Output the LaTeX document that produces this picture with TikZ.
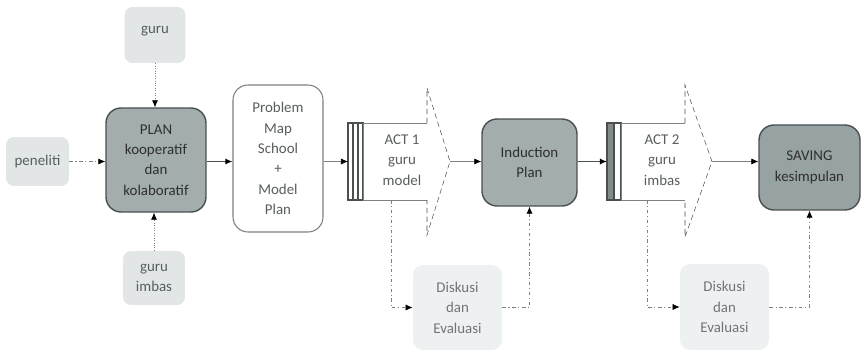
\documentclass[tikz,border=0pt]{standalone}
\usepackage{fontspec}
\setmainfont{Carlito}
\usetikzlibrary{arrows.meta}

\definecolor{boxlight}{HTML}{E2E6E6}
\definecolor{boxpale}{HTML}{EEF1F1}
\definecolor{boxdark}{HTML}{A3ADAD}
\definecolor{boxdarker}{HTML}{97A2A2}
\definecolor{edgedark}{HTML}{4A4F4F}
\definecolor{linegray}{HTML}{7C8181}
\definecolor{txtgray}{HTML}{585D5D}

\tikzset{
  lightbox/.style={fill=boxlight, rounded corners=0.16cm, align=center, text=txtgray, inner sep=1pt},
  palebox/.style={fill=boxpale, rounded corners=0.2cm, align=center, text=txtgray!85, inner sep=1pt},
  darkbox/.style={fill=boxdark, draw=edgedark, line width=0.8pt, rounded corners=0.3cm, align=center, text=black!82},
  whitebox/.style={fill=white, draw=linegray, line width=0.6pt, rounded corners=0.3cm, align=center, text=txtgray},
  barbox/.style={draw=edgedark, line width=0.6pt},
  conn/.style={-{Latex[length=4pt,width=3.5pt,color=black]}},
  dotconn/.style={conn, linegray, densely dotted},
  dashdotconn/.style={conn, linegray, dash pattern=on 2pt off 1.5pt on 0.6pt off 1.5pt},
}

\begin{document}
\begin{tikzpicture}[x=0.02cm, y=-0.02cm, font=\fontsize{8.5}{11.6}\selectfont]
  \useasboundingbox (0,0) rectangle (862,351);

  % Input boxes round PLAN
  \node[lightbox, minimum width=1.22cm, minimum height=1.12cm, text depth=0.22cm] (guru) at (155,35) {guru};
  \node[lightbox, minimum width=1.26cm, minimum height=0.98cm] (peneliti) at (37.5,161.5) {peneliti};
  \node[lightbox, minimum width=1.24cm, minimum height=1.08cm] (gimbas) at (154,278) {guru\\imbas};

  % PLAN
  \node[darkbox, minimum width=2cm, minimum height=2.08cm] (plan) at (156,160) {PLAN\\kooperatif\\dan\\kolaboratif};

  % Problem map
  \node[whitebox, minimum width=1.8cm, minimum height=2.94cm] (problem) at (278,158.5) {Problem\\Map\\School\\+\\Model\\Plan};

  % ACT 1 arrow
  \foreach \x in {348,353,358}
    \draw[barbox, fill=white] (\x,123) rectangle +(5,77);
  \draw[linegray] (427,123) -- (363,123) -- (363,200) -- (427,200);
  \draw[edgedark, densely dashed, line width=0.3pt] (427,123) -- (427,88) -- (450,161.5) -- (427,235) -- (427,200);
  \coordinate (act1in) at (348,161.5);
  \coordinate (act1tip) at (450,161.5);
  \coordinate (act1foot) at (391,200);
  \node[align=center, text=txtgray] (act1) at (402,160) {ACT 1\\guru\\model};

  % Induction
  \node[darkbox, minimum width=1.9cm, minimum height=1.74cm] (induction) at (529.5,162.5) {Induction\\Plan};

  % ACT 2 arrow
  \draw[barbox, fill=boxdark!80!black] (607,123) rectangle (614,200);
  \draw[barbox, fill=white] (614,123) rectangle (621,200);
  \draw[linegray] (685,123) -- (621,123) -- (621,200) -- (685,200);
  \draw[edgedark, densely dashed, line width=0.3pt] (685,123) -- (685,85) -- (712,161.5) -- (685,237) -- (685,200);
  \coordinate (act2in) at (607,161.5);
  \coordinate (act2tip) at (712,161.5);
  \coordinate (act2foot) at (647,200);
  \node[align=center, text=txtgray] (act2) at (662,160) {ACT 2\\guru\\imbas};

  % SAVING
  \node[darkbox, fill=boxdarker, minimum width=2.02cm, minimum height=1.7cm] (saving) at (809.5,167.5) {SAVING\\kesimpulan};

  % Diskusi boxes
  \node[palebox, minimum width=1.78cm, minimum height=1.7cm] (disk1) at (457.5,307.5) {Diskusi\\dan\\Evaluasi};
  \node[palebox, minimum width=1.78cm, minimum height=1.72cm] (disk2) at (724.5,307) {Diskusi\\dan\\Evaluasi};

  % Connectors
  \draw[dotconn] (guru.south) -- (guru.south |- plan.north);
  \draw[dotconn] (gimbas.north) -- (gimbas.north |- plan.south);
  \draw[dashdotconn] (peneliti.east) -- (peneliti.east -| plan.west);
  \draw[conn, edgedark, line width=0.8pt] (plan.east |- act1in) -- (problem.west |- act1in);
  \draw[conn, linegray] (problem.east |- act1in) -- (act1in);
  \draw[conn, linegray] (act1tip) -- (act1tip -| induction.west);
  \draw[conn, edgedark, line width=0.8pt] (induction.east |- act2in) -- (act2in);
  \draw[conn, linegray] (act2tip) -- (act2tip -| saving.west);
  \draw[dashdotconn] (act1foot) |- (disk1.west);
  \draw[dashdotconn] (disk1.east) -| (induction.south);
  \draw[dashdotconn] (act2foot) |- (disk2.west);
  \draw[dashdotconn] (disk2.east) -| (saving.south);
\end{tikzpicture}
\end{document}
